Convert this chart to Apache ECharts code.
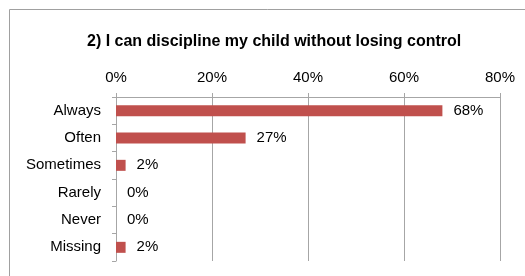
<!DOCTYPE html>
<html>
<head>
<meta charset="utf-8">
<script src="https://cdn.jsdelivr.net/npm/echarts@6/dist/echarts.min.js"></script>
<style>
  html, body { margin: 0; padding: 0; background: #fff; }
  #chart { width: 525px; height: 276px; }
</style>
</head>
<body>
<div id="chart"></div>
<script>
  // answers, top to bottom
  var categories = ['Always', 'Often', 'Sometimes', 'Rarely', 'Never', 'Missing'];
  var percents = [68, 27, 2, 0, 0, 2];
  var titleText = '2) I can discipline my child without losing control';

  var fontName = 'Liberation Sans';
  var gridGray = '#a6a6a6';

  var chart = echarts.init(document.getElementById('chart'));

  chart.setOption({
    backgroundColor: '#ffffff',
    animation: false,
    title: {
      text: titleText,
      left: 82,
      top: 29,
      textStyle: {
        fontFamily: fontName,
        fontWeight: 'bold',
        fontSize: 16,
        color: '#000'
      }
    },
    // outer frame, only top and left show in the picture
    graphic: [{
      type: 'rect',
      shape: { x: 9.5, y: 9.5, width: 620, height: 320 },
      style: { fill: null, stroke: '#a0a0a0', lineWidth: 1 },
      silent: true
    }],
    grid: {
      left: 116,
      top: 97,
      right: 25,
      bottom: 15
    },
    xAxis: {
      type: 'value',
      position: 'top',
      min: 0,
      max: 80,
      interval: 20,
      axisLine: { show: true, lineStyle: { color: gridGray } },
      axisTick: { show: true, length: 4, lineStyle: { color: gridGray } },
      splitLine: { show: true, lineStyle: { color: gridGray } },
      axisLabel: {
        margin: 12,
        fontFamily: fontName,
        fontSize: 15,
        color: '#000',
        formatter: '{value}%'
      }
    },
    yAxis: {
      type: 'category',
      inverse: true,
      data: categories,
      axisLine: { show: true, lineStyle: { color: gridGray } },
      axisTick: { show: true, length: 4, lineStyle: { color: gridGray } },
      axisLabel: {
        margin: 15,
        fontFamily: fontName,
        fontSize: 15,
        color: '#000'
      }
    },
    series: [{
      type: 'bar',
      data: percents,
      barWidth: 11,
      itemStyle: { color: '#C0504D' },
      label: {
        show: true,
        position: 'right',
        distance: 11,
        fontFamily: fontName,
        fontSize: 15,
        color: '#000',
        formatter: '{c}%'
      }
    }]
  });
</script>
</body>
</html>
